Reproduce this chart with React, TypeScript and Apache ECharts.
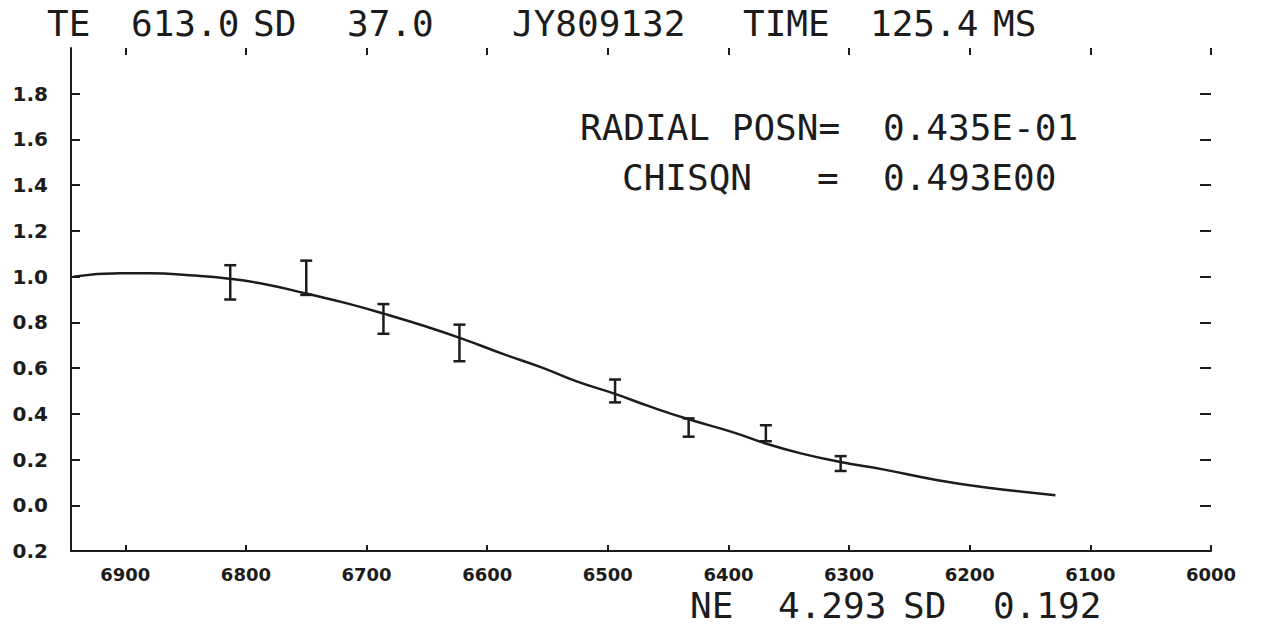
import React, { useEffect, useRef } from "react";
import * as echarts from "echarts";

// ---- data ----
const xTicks = [6900, 6800, 6700, 6600, 6500, 6400, 6300, 6200, 6100, 6000];
const xMin = 6000;
const xMax = 6945;
const yTickValues = [-0.2, 0.0, 0.2, 0.4, 0.6, 0.8, 1.0, 1.2, 1.4, 1.6, 1.8];
const yTickLabels = ["0.2", "0.0", "0.2", "0.4", "0.6", "0.8", "1.0", "1.2", "1.4", "1.6", "1.8"];
const yMin = -0.2;
const yMax = 2.0;

// measured points with error bars
const pointX = [6813, 6750, 6686, 6623, 6494, 6433, 6369, 6307];
const errLow = [0.9, 0.92, 0.75, 0.63, 0.45, 0.3, 0.28, 0.15];
const errHigh = [1.05, 1.07, 0.88, 0.79, 0.55, 0.38, 0.35, 0.215];

// fitted curve
const fitX = [6943, 6904, 6879, 6847, 6814, 6783, 6750, 6717, 6685, 6652, 6621, 6587, 6555, 6527, 6494, 6463, 6433, 6396, 6369, 6340, 6306, 6272, 6231, 6188, 6129];
const fitY = [1.0, 1.015, 1.015, 1.006, 0.991, 0.966, 0.926, 0.884, 0.837, 0.784, 0.729, 0.662, 0.603, 0.544, 0.487, 0.428, 0.376, 0.319, 0.27, 0.227, 0.188, 0.157, 0.114, 0.079, 0.044];

// texts
const headerTexts = ["TE", "613.0", "SD", "37.0", "JY809132", "TIME", "125.4", "MS"];
const fitTexts = ["RADIAL POSN=", "0.435E-01", "CHISQN", "=", "0.493E00"];
const footerTexts = ["NE", "4.293", "SD", "0.192"];

const INK = "#1c1c1c";
const MONO = "'DejaVu Sans Mono', 'Liberation Mono', monospace";
const LABEL_FONT = "'DejaVu Sans', Verdana, sans-serif";

export default function App() {
  const ref = useRef<HTMLDivElement>(null);

  useEffect(() => {
    if (!ref.current) return;
    const chart = echarts.init(ref.current, null, { renderer: "svg" });

    const headerX = [47, 131, 253, 347, 512, 743, 870, 993];
    const fitPos = [
      [580, 127],
      [883, 127],
      [622, 177],
      [817, 177],
      [883, 177],
    ];
    const footerX = [690, 778, 903, 993];

    const txt = (text: string, x: number, y: number) => ({
      type: "text",
      x,
      y,
      silent: true,
      style: {
        text,
        fill: INK,
        fontFamily: MONO,
        fontSize: 36,
        align: "left",
        verticalAlign: "middle",
      },
    });

    const graphics: any[] = [];
    headerTexts.forEach((t, i) => graphics.push(txt(t, headerX[i], 23)));
    fitTexts.forEach((t, i) => graphics.push(txt(t, fitPos[i][0], fitPos[i][1])));
    footerTexts.forEach((t, i) => graphics.push(txt(t, footerX[i], 605)));

    const yLabel = (v: number) => {
      for (let i = 0; i < yTickValues.length; i++) {
        if (Math.abs(v - yTickValues[i]) < 1e-6) return yTickLabels[i];
      }
      return "";
    };

    const errData = pointX.map((x, i) => [x, errLow[i], errHigh[i]]);
    const fitData = fitX.map((x, i) => [x, fitY[i]]);

    chart.setOption({
      animation: false,
      backgroundColor: "#ffffff",
      grid: { left: 71, right: 52, top: 48, bottom: 79, containLabel: false },
      xAxis: [
        {
          type: "value",
          min: xMin,
          max: xMax,
          inverse: true,
          interval: 100,
          position: "bottom",
          axisLine: { show: true, onZero: false, lineStyle: { color: INK, width: 2 } },
          axisTick: {
            show: true,
            inside: true,
            length: 6,
            customValues: xTicks,
            lineStyle: { color: INK, width: 2 },
          },
          axisLabel: {
            show: true,
            customValues: xTicks,
            formatter: (v: number) => String(Math.round(v)),
            margin: 14,
            color: INK,
            fontFamily: LABEL_FONT,
            fontWeight: "bold",
            fontSize: 18,
          },
          splitLine: { show: false },
        },
        {
          type: "value",
          min: xMin,
          max: xMax,
          inverse: true,
          interval: 100,
          position: "top",
          axisLine: { show: false, onZero: false },
          axisTick: {
            show: true,
            inside: true,
            length: 7,
            customValues: xTicks,
            lineStyle: { color: INK, width: 2 },
          },
          axisLabel: { show: false },
          splitLine: { show: false },
        },
      ],
      yAxis: [
        {
          type: "value",
          min: yMin,
          max: yMax,
          interval: 0.2,
          position: "left",
          axisLine: { show: true, onZero: false, lineStyle: { color: INK, width: 2 } },
          axisTick: {
            show: true,
            inside: true,
            length: 9,
            customValues: yTickValues,
            lineStyle: { color: INK, width: 2 },
          },
          axisLabel: {
            show: true,
            customValues: yTickValues,
            formatter: (v: number) => yLabel(v),
            margin: 23,
            color: INK,
            fontFamily: LABEL_FONT,
            fontWeight: "bold",
            fontSize: 20,
          },
          splitLine: { show: false },
        },
        {
          type: "value",
          min: yMin,
          max: yMax,
          interval: 0.2,
          position: "right",
          axisLine: { show: false, onZero: false },
          axisTick: {
            show: true,
            inside: true,
            length: 11,
            customValues: yTickValues,
            lineStyle: { color: INK, width: 2 },
          },
          axisLabel: { show: false },
          splitLine: { show: false },
        },
      ],
      series: [
        {
          type: "line",
          xAxisIndex: 0,
          yAxisIndex: 0,
          data: fitData,
          smooth: 0.5,
          showSymbol: false,
          symbol: "none",
          lineStyle: { color: INK, width: 2.5 },
          silent: true,
        },
        {
          type: "custom",
          xAxisIndex: 0,
          yAxisIndex: 0,
          data: errData,
          silent: true,
          renderItem: (params: any, api: any) => {
            const x = api.value(0);
            const lo = api.coord([x, api.value(1)]);
            const hi = api.coord([x, api.value(2)]);
            const hw = 6;
            const st = { stroke: INK, lineWidth: 2.5 };
            return {
              type: "group",
              children: [
                { type: "line", shape: { x1: lo[0], y1: lo[1], x2: hi[0], y2: hi[1] }, style: st },
                { type: "line", shape: { x1: lo[0] - hw, y1: lo[1], x2: lo[0] + hw, y2: lo[1] }, style: st },
                { type: "line", shape: { x1: hi[0] - hw, y1: hi[1], x2: hi[0] + hw, y2: hi[1] }, style: st },
              ],
            };
          },
        },
      ],
      graphic: graphics,
    });

    return () => chart.dispose();
  }, []);

  return (
    <div
      ref={ref}
      style={{ position: "absolute", left: 0, top: 0, width: 1263, height: 630, background: "#fff" }}
    />
  );
}
